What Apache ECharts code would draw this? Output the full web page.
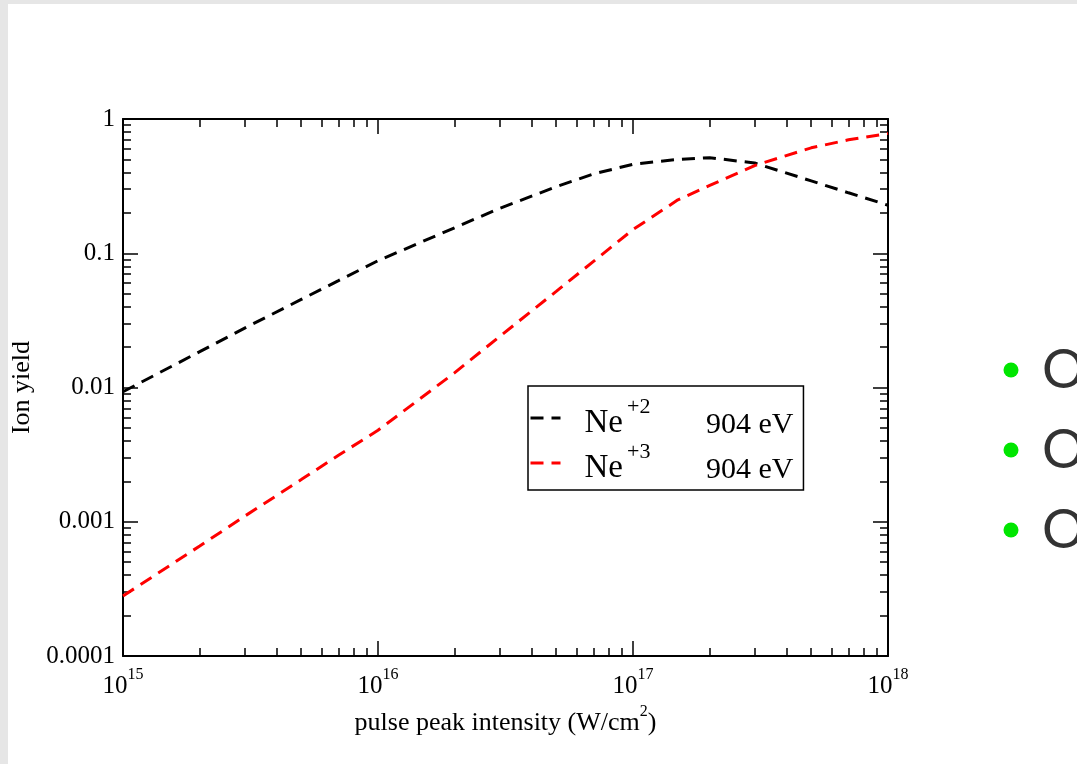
<!DOCTYPE html>
<html><head><meta charset="utf-8">
<script src="https://cdn.jsdelivr.net/npm/echarts@6/dist/echarts.min.js"></script>
<style>
html,body{margin:0;padding:0;width:1077px;height:764px;overflow:hidden;background:#e6e6e6;}
#page{position:absolute;left:8px;top:4px;right:0;bottom:0;background:#fff;}
#chart{position:absolute;left:0;top:0;width:1077px;height:764px;}
</style></head><body>
<div id="page"></div><div id="chart"></div>
<script>
// ---- data ----
const intensities = [1e15, 2e15, 3e15, 5e15, 7e15, 1e16, 2e16, 3e16, 5e16, 7e16, 1e17, 1.5e17, 2e17, 3e17, 5e17, 7e17, 1e18];
const ne2Yield = [0.0093, 0.0185, 0.0277, 0.0453, 0.0625, 0.088, 0.155, 0.216, 0.313, 0.39, 0.46, 0.50, 0.515, 0.47, 0.346, 0.282, 0.228];
const ne3Yield = [0.00028, 0.00066, 0.0011, 0.00206, 0.00313, 0.0048, 0.0129, 0.024, 0.052, 0.087, 0.15, 0.25, 0.32, 0.45, 0.61, 0.70, 0.78];
const seriesNames = ['Ne+2 904 eV', 'Ne+3 904 eV'];
const ionBase = ['Ne', 'Ne'];
const ionCharge = ['+2', '+3'];
const ionEnergy = ['904 eV', '904 eV'];
const seriesColors = ['#000000', '#ff0000'];
const xTickValues = [1e15, 1e16, 1e17, 1e18];
const xTickExponents = ['15', '16', '17', '18'];
const yTickValues = [0.0001, 0.001, 0.01, 0.1, 1];
const yTickLabels = ['0.0001', '0.001', '0.01', '0.1', '1'];
const xMinorLog = [];
const yMinorLog = [];
for (let d = 15; d < 18; d++) for (let m = 2; m <= 9; m++) xMinorLog.push(d + Math.log10(m));
for (let d = -4; d < 0; d++) for (let m = 2; m <= 9; m++) yMinorLog.push(d + Math.log10(m));
const bulletTexts = ['O', 'O', 'O'];
const bulletY = [370, 450, 530];

const FONT = 'Liberation Serif';
function nearestIdx(arr, v) {
  let best = 0, bd = Infinity;
  arr.forEach((a, i) => { const d = Math.abs(Math.log10(a) - Math.log10(v)); if (d < bd) { bd = d; best = i; } });
  return best;
}
const lineAx = {show: true, onZero: false, lineStyle: {color: '#000', width: 2}};
const majorTick = {show: true, inside: true, length: 15, lineStyle: {color: '#000', width: 1.5}};
const minorTickOf = vals => ({show: true, inside: true, length: 8, customValues: vals, lineStyle: {color: '#000', width: 1.5}});
const noLabel = {show: false};
const noSplit = {show: false};

const chart = echarts.init(document.getElementById('chart'));
const option = {
  animation: false,
  textStyle: {fontFamily: FONT},
  grid: {left: 123, top: 119, width: 765, height: 537, containLabel: false, outerBoundsMode: 'none'},
  xAxis: [
    {type: 'log', logBase: 10, min: 1e15, max: 1e18, position: 'bottom',
     axisLine: lineAx, axisTick: majorTick, splitLine: noSplit,
     axisLabel: {show: true, margin: 11, showMinLabel: true, showMaxLabel: true,
       formatter: v => '{b|10}{s|' + xTickExponents[nearestIdx(xTickValues, v)] + '}',
       rich: {b: {fontFamily: FONT, fontSize: 25, lineHeight: 32, verticalAlign: 'bottom', color: '#000'},
              s: {fontFamily: FONT, fontSize: 16, lineHeight: 14, verticalAlign: 'top', color: '#000'}}},
     name: '{a|pulse peak intensity (W/cm}{s|2}{a|)}', nameLocation: 'middle', nameGap: 45,
     nameTextStyle: {rich: {a: {fontFamily: FONT, fontSize: 26, lineHeight: 32, verticalAlign: 'bottom', color: '#000'},
                            s: {fontFamily: FONT, fontSize: 16, lineHeight: 16, verticalAlign: 'top', color: '#000'}}}},
    {type: 'log', logBase: 10, min: 1e15, max: 1e18, position: 'top',
     axisLine: lineAx, axisTick: majorTick, axisLabel: noLabel, splitLine: noSplit},
    {type: 'value', min: 15, max: 18, position: 'bottom',
     axisLine: {show: false, onZero: false}, axisTick: minorTickOf(xMinorLog), axisLabel: noLabel, splitLine: noSplit},
    {type: 'value', min: 15, max: 18, position: 'top',
     axisLine: {show: false, onZero: false}, axisTick: minorTickOf(xMinorLog), axisLabel: noLabel, splitLine: noSplit}
  ],
  yAxis: [
    {type: 'log', logBase: 10, min: 0.0001, max: 1, position: 'left',
     axisLine: lineAx, axisTick: majorTick, splitLine: noSplit,
     axisLabel: {show: true, margin: 8, showMinLabel: true, showMaxLabel: true, fontFamily: FONT, fontSize: 25, color: '#000',
       formatter: v => yTickLabels[nearestIdx(yTickValues, v)]},
     name: 'Ion yield', nameLocation: 'middle', nameGap: 82, nameRotate: 90,
     nameTextStyle: {fontFamily: FONT, fontSize: 26, color: '#000'}},
    {type: 'log', logBase: 10, min: 0.0001, max: 1, position: 'right',
     axisLine: lineAx, axisTick: majorTick, axisLabel: noLabel, splitLine: noSplit},
    {type: 'value', min: -4, max: 0, position: 'left',
     axisLine: {show: false, onZero: false}, axisTick: minorTickOf(yMinorLog), axisLabel: noLabel, splitLine: noSplit},
    {type: 'value', min: -4, max: 0, position: 'right',
     axisLine: {show: false, onZero: false}, axisTick: minorTickOf(yMinorLog), axisLabel: noLabel, splitLine: noSplit}
  ],
  legend: {
    left: 528, top: 386, orient: 'vertical', padding: [10, 10, 5, 1], itemGap: 1,
    itemWidth: 30, itemHeight: 14, backgroundColor: '#fff', borderColor: '#000', borderWidth: 1.5, borderRadius: 0,
    lineStyle: {width: 3}, itemStyle: {color: 'transparent', borderWidth: 0, opacity: 0}, data: seriesNames,
    formatter: name => {
      const i = seriesNames.indexOf(name);
      return '{n|' + ionBase[i] + '}{s|' + ionCharge[i] + '}{v|' + ionEnergy[i] + '}';
    },
    textStyle: {fontFamily: FONT, color: '#000', padding: [0, 0, 0, 19],
      rich: {n: {fontFamily: FONT, fontSize: 33, lineHeight: 44, verticalAlign: 'bottom', color: '#000'},
             s: {fontFamily: FONT, fontSize: 22, lineHeight: 22, verticalAlign: 'top', width: 79, padding: [0, 0, 0, 4], color: '#000'},
             v: {fontFamily: FONT, fontSize: 30, lineHeight: 44, verticalAlign: 'bottom', color: '#000'}}}
  },
  series: [0, 1].map(k => ({
    name: seriesNames[k], type: 'line', xAxisIndex: 0, yAxisIndex: 0, symbol: 'none', smooth: false,
    data: intensities.map((x, i) => [x, (k === 0 ? ne2Yield : ne3Yield)[i]]),
    lineStyle: {color: seriesColors[k], width: 3, type: [13, 8]},
    itemStyle: {color: seriesColors[k]}
  })),
  graphic: bulletTexts.flatMap((t, i) => [
    {type: 'circle', shape: {cx: 1011, cy: bulletY[i], r: 7.5}, style: {fill: '#00e600'}},
    {type: 'text', x: 1042, y: bulletY[i] + 1, style: {text: t, fill: '#333', font: '54px Lato', verticalAlign: 'middle'}}
  ])
};
chart.setOption(option);
</script>
</body></html>
